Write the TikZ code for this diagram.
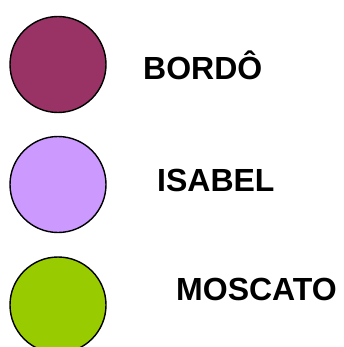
\documentclass[tikz,border=0pt]{standalone}
\usepackage{fontspec}
\setmainfont{Liberation Sans}
\usepackage{tikz}
\usetikzlibrary{positioning}

\definecolor{bordo}{HTML}{993366}
\definecolor{isabel}{HTML}{CC99FF}
\definecolor{moscato}{HTML}{99CC00}

\begin{document}
\begin{tikzpicture}[x=1pt, y=-1pt,
    grape/.style={circle, draw=black, line width=1.4pt, minimum size=96pt, inner sep=0pt},
    grapelabel/.style={anchor=base west, inner sep=0pt, font=\fontsize{32}{38}\selectfont\bfseries}]
  \useasboundingbox (0,0) rectangle (344,347);

  % one circle and one name per grape
  \foreach \i/\y/\col/\tx/\ty/\name in {
    1/64.5/bordo/143/80/BORDÔ,
    2/184.5/isabel/157/191/ISABEL,
    3/305/moscato/176/300.7/MOSCATO
  }{
    \node[grape, fill=\col] (grape-\i) at (58,\y) {};
    \node[grapelabel] (label-\i) at (\tx,\ty) {\name};
  }
\end{tikzpicture}
\end{document}
